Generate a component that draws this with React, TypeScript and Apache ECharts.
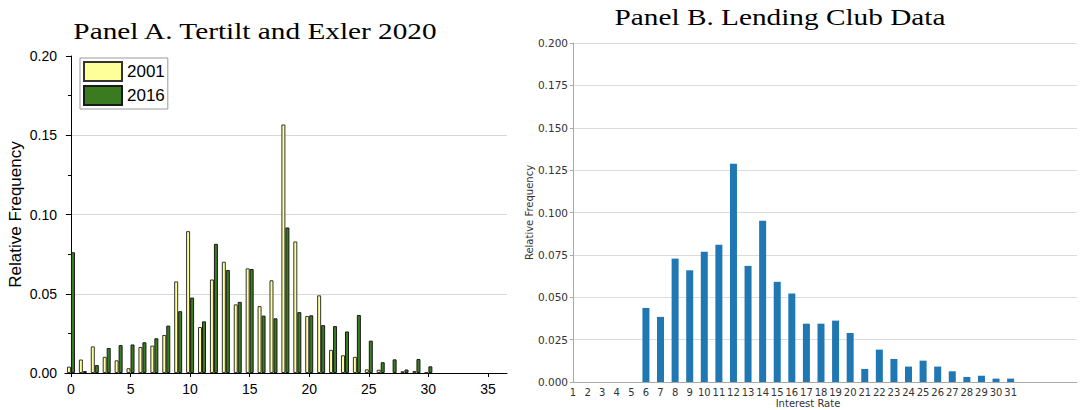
import React, { useEffect, useRef } from "react";
import * as echarts from "echarts";

// Panel A: Tertilt and Exler 2020
const ratesA = [0, 1, 2, 3, 4, 5, 6, 7, 8, 9, 10, 11, 12, 13, 14, 15, 16, 17, 18, 19, 20, 21, 22, 23, 24, 25, 26, 27, 28, 29, 30];
const freq2001 = [0.004, 0.0085, 0.0168, 0.0102, 0.008, 0.003, 0.0164, 0.0173, 0.024, 0.0578, 0.0895, 0.029, 0.059, 0.0702, 0.0433, 0.066, 0.0422, 0.0585, 0.1568, 0.083, 0.036, 0.049, 0.0146, 0.0112, 0.0102, 0.0023, 0.0021, 0, 0.0011, 0.0013, 0.0004];
const freq2016 = [0.0762, 0.0012, 0.005, 0.0158, 0.0176, 0.018, 0.0194, 0.0219, 0.0299, 0.039, 0.0476, 0.0326, 0.0815, 0.065, 0.0449, 0.0656, 0.0362, 0.0345, 0.0918, 0.0384, 0.0364, 0.0302, 0.0296, 0.0262, 0.0366, 0.0204, 0.0068, 0.0086, 0.0022, 0.0088, 0.0042];
const ticksA = [0, 5, 10, 15, 20, 25, 30, 35];

// Panel B: Lending Club Data
const ratesB = [1, 2, 3, 4, 5, 6, 7, 8, 9, 10, 11, 12, 13, 14, 15, 16, 17, 18, 19, 20, 21, 22, 23, 24, 25, 26, 27, 28, 29, 30, 31];
const freqLC = [0, 0, 0, 0, 0, 0.0437, 0.0384, 0.0728, 0.0659, 0.0768, 0.0809, 0.1287, 0.0685, 0.0951, 0.0591, 0.0522, 0.0344, 0.0344, 0.0362, 0.0289, 0.0077, 0.0191, 0.0136, 0.0091, 0.0126, 0.0091, 0.0063, 0.003, 0.0037, 0.002, 0.002];

const SANS = "Liberation Sans";
const MPL = "DejaVu Sans";
const SERIF = "Liberation Serif";

export default function App() {
  const ref = useRef<HTMLDivElement>(null);
  useEffect(() => {
    if (!ref.current) return;
    const chart = echarts.init(ref.current, null, { renderer: "svg" });
    const pair = (xs: number[], ys: number[]) =>
      xs.map((x, i) => (ys[i] > 0 ? [x, ys[i]] : [x, "-"]));
    chart.setOption({
      animation: false,
      grid: [
        { left: 65, top: 56, width: 442, height: 317 },
        { left: 573, top: 43, width: 507, height: 339 },
      ],
      legend: {
        data: ["2001", "2016"],
        orient: "vertical",
        left: 80,
        top: 58,
        itemWidth: 38,
        itemHeight: 19,
        itemGap: 3,
        padding: 3,
        borderColor: "#999",
        borderWidth: 1,
        icon: "rect",
        textStyle: { fontFamily: SANS, fontSize: 17, color: "#000" },
      },
      graphic: [
        {
          type: "text",
          x: 255,
          y: 31,
          scaleX: 1.22,
          style: {
            text: "Panel A. Tertilt and Exler 2020",
            fontFamily: SERIF,
            fontSize: 24,
            fill: "#000",
            textAlign: "center",
            textVerticalAlign: "middle",
          },
        },
        {
          type: "text",
          x: 780,
          y: 17,
          scaleX: 1.22,
          style: {
            text: "Panel B. Lending Club Data",
            fontFamily: SERIF,
            fontSize: 24,
            fill: "#000",
            textAlign: "center",
            textVerticalAlign: "middle",
          },
        },
        {
          type: "text",
          x: 808,
          y: 403,
          style: {
            text: "Interest Rate",
            fontFamily: MPL,
            fontSize: 10,
            fill: "#333",
            textAlign: "center",
            textVerticalAlign: "middle",
          },
        },
      ],
      xAxis: [
        {
          type: "value",
          gridIndex: 0,
          min: -0.5,
          max: 36.6,
          axisLine: { lineStyle: { color: "#000", width: 1 } },
          axisTick: { customValues: ticksA, length: 4, lineStyle: { color: "#000" } },
          axisLabel: {
            customValues: ticksA,
            fontFamily: SANS,
            fontSize: 14,
            color: "#000",
            margin: 9,
          },
          splitLine: { show: false },
        },
        {
          type: "value",
          gridIndex: 1,
          min: 1,
          max: 35.55,
          interval: 1,
          axisLine: { lineStyle: { color: "#aaa", width: 1 } },
          axisTick: { show: false },
          axisLabel: {
            fontFamily: MPL,
            fontSize: 10,
            color: "#333",
            margin: 5,
            formatter: (v: number) => (v <= 31 ? String(v) : ""),
          },
          splitLine: { show: false },
        },
      ],
      yAxis: [
        {
          type: "value",
          gridIndex: 0,
          min: 0,
          max: 0.2,
          interval: 0.05,
          name: "Relative Frequency",
          nameLocation: "middle",
          nameGap: 41,
          nameTextStyle: { fontFamily: SANS, fontSize: 17, color: "#000" },
          axisLine: { show: true, lineStyle: { color: "#000", width: 1 } },
          axisTick: { show: true, length: 5, lineStyle: { color: "#000" } },
          minorTick: { show: true, splitNumber: 2, length: 3, lineStyle: { color: "#000" } },
          axisLabel: {
            fontFamily: SANS,
            fontSize: 14,
            color: "#000",
            margin: 8,
            formatter: (v: number) => v.toFixed(2),
          },
          splitLine: {
            show: true,
            showMinLine: false,
            showMaxLine: false,
            lineStyle: { color: "#d8d8d8", width: 1 },
          },
        },
        {
          type: "value",
          gridIndex: 1,
          min: 0,
          max: 0.2,
          interval: 0.025,
          name: "Relative Frequency",
          nameLocation: "middle",
          nameGap: 37,
          nameTextStyle: { fontFamily: MPL, fontSize: 10, color: "#333" },
          axisLine: { show: true, lineStyle: { color: "#aaa", width: 1 } },
          axisTick: { show: true, length: 3, lineStyle: { color: "#aaa" } },
          axisLabel: {
            fontFamily: MPL,
            fontSize: 10.5,
            color: "#333",
            margin: 5,
            formatter: (v: number) => v.toFixed(3),
          },
          splitLine: { show: true, lineStyle: { color: "#dcdcdc", width: 1 } },
        },
      ],
      series: [
        {
          name: "2001",
          type: "bar",
          xAxisIndex: 0,
          yAxisIndex: 0,
          barWidth: 4,
          barGap: "0%",
          clip: false,
          itemStyle: { color: "#ffff99", borderColor: "#333", borderWidth: 1 },
          data: pair(ratesA, freq2001),
        },
        {
          name: "2016",
          type: "bar",
          xAxisIndex: 0,
          yAxisIndex: 0,
          barWidth: 4,
          barGap: "0%",
          clip: false,
          itemStyle: { color: "#3a7b20", borderColor: "#1a1a1a", borderWidth: 1 },
          data: pair(ratesA, freq2016),
        },
        {
          name: "Lending Club",
          type: "bar",
          xAxisIndex: 1,
          yAxisIndex: 1,
          barWidth: 7,
          itemStyle: { color: "#1f77b4" },
          data: ratesB.map((x, i) => [x, freqLC[i]]),
        },
      ],
    });
    return () => chart.dispose();
  }, []);
  return (
    <div
      ref={ref}
      style={{ position: "absolute", left: 0, top: 0, width: 1080, height: 410 }}
    />
  );
}
